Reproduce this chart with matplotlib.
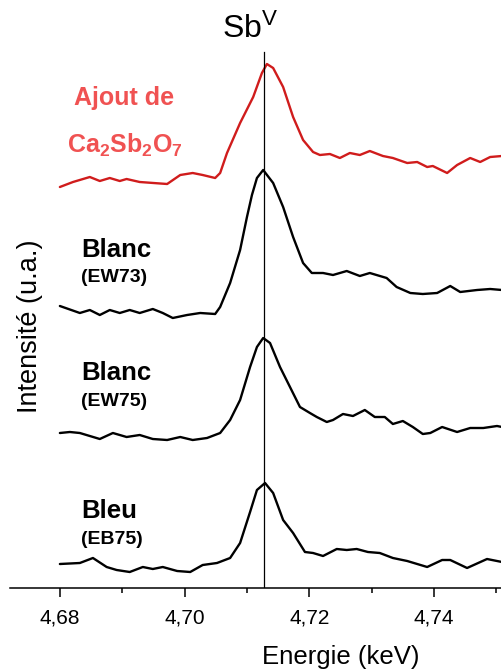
import matplotlib
matplotlib.use("Agg")
import matplotlib.pyplot as plt
from matplotlib.ticker import FixedLocator, FuncFormatter

plt.rcParams['font.family'] = ['Liberation Sans', 'DejaVu Sans']
plt.rcParams['mathtext.fontset'] = 'custom'
plt.rcParams['mathtext.rm'] = 'Liberation Sans'
plt.rcParams['mathtext.bf'] = 'Liberation Sans:bold'
plt.rcParams['mathtext.it'] = 'Liberation Sans:italic'

# ---- data (energy in keV, intensity in a.u., stacked) ----
ca_energy = [4.6800, 4.6821, 4.6848, 4.6864, 4.6880, 4.6896, 4.6907, 4.6928, 4.6972, 4.6993,
             4.7013, 4.7029, 4.7049, 4.7057, 4.7068, 4.7089, 4.7110, 4.7124, 4.7132, 4.7142,
             4.7158, 4.7174, 4.7190, 4.7206, 4.7217, 4.7233, 4.7249, 4.7265, 4.7281, 4.7297,
             4.7318, 4.7334, 4.7357, 4.7373, 4.7389, 4.7398, 4.7421, 4.7437, 4.7458, 4.7474,
             4.7490, 4.7509]
ca_int = [4.01, 4.06, 4.11, 4.07, 4.10, 4.07, 4.09, 4.06, 4.04, 4.13,
          4.15, 4.13, 4.10, 4.15, 4.35, 4.65, 4.91, 5.15, 5.24, 5.20,
          5.01, 4.71, 4.48, 4.36, 4.33, 4.34, 4.30, 4.35, 4.33, 4.37,
          4.32, 4.30, 4.25, 4.26, 4.21, 4.22, 4.15, 4.23, 4.30, 4.26,
          4.31, 4.32]

ew73_energy = [4.6800, 4.6832, 4.6848, 4.6864, 4.6880, 4.6896, 4.6912, 4.6928, 4.6949, 4.6965,
               4.6981, 4.7004, 4.7025, 4.7049, 4.7057, 4.7073, 4.7089, 4.7100, 4.7108, 4.7116,
               4.7126, 4.7142, 4.7158, 4.7174, 4.7190, 4.7204, 4.7222, 4.7238, 4.7260, 4.7281,
               4.7297, 4.7324, 4.7340, 4.7362, 4.7382, 4.7405, 4.7426, 4.7442, 4.7469, 4.7490,
               4.7509]
ew73_int = [2.82, 2.75, 2.78, 2.73, 2.78, 2.75, 2.78, 2.75, 2.79, 2.75,
            2.70, 2.73, 2.75, 2.74, 2.81, 3.05, 3.38, 3.71, 3.93, 4.10,
            4.18, 4.05, 3.81, 3.51, 3.25, 3.15, 3.15, 3.13, 3.17, 3.12,
            3.15, 3.10, 3.01, 2.95, 2.94, 2.95, 3.02, 2.96, 2.98, 2.99,
            2.98]

ew75_energy = [4.6800, 4.6816, 4.6832, 4.6864, 4.6885, 4.6907, 4.6928, 4.6949, 4.6972, 4.6993,
               4.7013, 4.7036, 4.7057, 4.7073, 4.7089, 4.7105, 4.7116, 4.7126, 4.7137, 4.7153,
               4.7169, 4.7185, 4.7201, 4.7212, 4.7228, 4.7238, 4.7254, 4.7270, 4.7289, 4.7305,
               4.7321, 4.7334, 4.7350, 4.7366, 4.7382, 4.7394, 4.7413, 4.7437, 4.7458, 4.7479,
               4.7501, 4.7509]
ew75_int = [1.55, 1.56, 1.55, 1.49, 1.55, 1.51, 1.53, 1.49, 1.48, 1.51,
            1.48, 1.50, 1.55, 1.68, 1.88, 2.21, 2.41, 2.50, 2.45, 2.21,
            2.01, 1.81, 1.75, 1.71, 1.66, 1.68, 1.74, 1.72, 1.78, 1.71,
            1.71, 1.64, 1.67, 1.61, 1.54, 1.55, 1.61, 1.56, 1.60, 1.60,
            1.62, 1.61]

eb75_energy = [4.6800, 4.6832, 4.6853, 4.6875, 4.6891, 4.6912, 4.6933, 4.6949, 4.6965, 4.6988,
               4.7009, 4.7029, 4.7052, 4.7073, 4.7089, 4.7105, 4.7116, 4.7129, 4.7142, 4.7158,
               4.7174, 4.7193, 4.7206, 4.7222, 4.7244, 4.7260, 4.7276, 4.7294, 4.7313, 4.7334,
               4.7357, 4.7389, 4.7413, 4.7426, 4.7453, 4.7485, 4.7509]
eb75_int = [0.24, 0.25, 0.30, 0.21, 0.18, 0.16, 0.21, 0.19, 0.21, 0.17,
            0.16, 0.23, 0.25, 0.30, 0.45, 0.76, 0.98, 1.05, 0.95, 0.68,
            0.55, 0.36, 0.35, 0.32, 0.39, 0.38, 0.39, 0.36, 0.35, 0.30,
            0.27, 0.21, 0.28, 0.28, 0.20, 0.29, 0.26]

major_ticks = [4.68, 4.70, 4.72, 4.74]
minor_ticks = [4.69, 4.71, 4.73, 4.75]
sbv_energy = 4.7128

fig = plt.figure(figsize=(5.02, 6.72), dpi=100)
ax = fig.add_axes([10/502, 84/672, 492/502, 588/672])

lw = 1.7
style = dict(lw=lw, solid_joinstyle='round', solid_capstyle='round')
ax.plot(ca_energy, ca_int, color='#d01c1c', **style)
ax.plot(ew73_energy, ew73_int, color='black', **style)
ax.plot(ew75_energy, ew75_int, color='black', **style)
ax.plot(eb75_energy, eb75_int, color='black', **style)

ax.plot([sbv_energy, sbv_energy], [0, 5.36], color='black', lw=0.9)

ax.set_xlim(4.672, 4.7509)
ax.set_ylim(0, 5.88)

for s in ['top', 'right', 'left']:
    ax.spines[s].set_visible(False)
ax.spines['bottom'].set_linewidth(1.1)
ax.set_yticks([])
ax.xaxis.set_major_locator(FixedLocator(major_ticks))
ax.xaxis.set_minor_locator(FixedLocator(minor_ticks))
ax.xaxis.set_major_formatter(FuncFormatter(lambda v, p: f"{v:.2f}".replace('.', ',')))
ax.tick_params(axis='x', which='major', direction='out', length=6.5, width=1.1,
               labelsize=15, pad=8.5)
ax.tick_params(axis='x', which='minor', direction='out', length=3.8, width=1.1)

ax.text(4.7105, 5.50, r"Sb$^{\mathrm{V}}$", fontsize=23, ha='center', va='baseline')

red_txt = '#f05252'
ax.text(4.6903, 4.90, "Ajout de", color=red_txt, fontsize=18, fontweight='bold',
        ha='center', va='center')
ax.text(4.6904, 4.43, r"$\mathbf{Ca_2Sb_2O_7}$", color=red_txt, fontsize=18,
        ha='center', va='center')

ax.text(4.6834, 3.38, "Blanc", fontsize=18.5, fontweight='bold', ha='left', va='center')
ax.text(4.6834, 3.10, "(EW73)", fontsize=14, fontweight='bold', ha='left', va='center')
ax.text(4.6834, 2.15, "Blanc", fontsize=18.5, fontweight='bold', ha='left', va='center')
ax.text(4.6834, 1.86, "(EW75)", fontsize=14, fontweight='bold', ha='left', va='center')
ax.text(4.6834, 0.77, "Bleu", fontsize=18.5, fontweight='bold', ha='left', va='center')
ax.text(4.6834, 0.48, "(EB75)", fontsize=14, fontweight='bold', ha='left', va='center')

fig.text(30/502, 1 - 326/672, "Intensité (u.a.)", rotation=90, fontsize=19.5,
         ha='center', va='center')
fig.text(341/502, 1 - 657/672, "Energie (keV)", fontsize=18.5, ha='center', va='center')

fig.savefig("out.png", dpi=100)
